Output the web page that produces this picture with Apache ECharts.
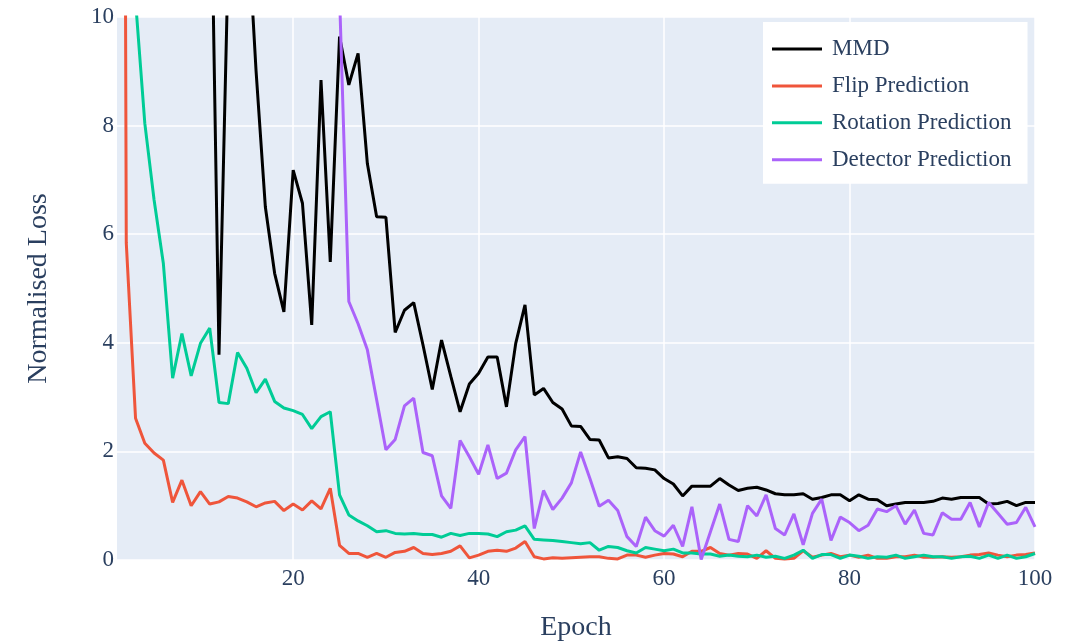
<!DOCTYPE html>
<html>
<head>
<meta charset="utf-8">
<script src="https://cdn.jsdelivr.net/npm/echarts@6/dist/echarts.min.js"></script>
<style>
html,body{margin:0;padding:0;background:#fff;}
#chart{width:1067px;height:644px;}
</style>
</head>
<body>
<div id="chart"></div>
<script>
const epochs = Array.from({length: 100}, (_, i) => i + 1);
const xTicks = [20, 40, 60, 80, 100];
const seriesNames = ['MMD', 'Flip Prediction', 'Rotation Prediction', 'Detector Prediction'];

// values per epoch 1..100 (null = not shown / off chart)
const mmd = [null,null,null,null,null,null,null,null,null,null,
  14.1,3.78,11.1,12.5,12.0,9.0,6.5,5.28,4.57,7.18,
  6.57,4.33,8.84,5.49,9.64,8.75,9.33,7.3,6.32,6.31,
  4.19,4.6,4.74,3.96,3.14,4.05,3.38,2.73,3.24,3.44,
  3.74,3.74,2.82,3.99,4.7,3.04,3.16,2.9,2.78,2.47,
  2.46,2.22,2.21,1.88,1.9,1.87,1.7,1.69,1.66,1.5,
  1.4,1.18,1.36,1.36,1.36,1.5,1.38,1.28,1.32,1.34,
  1.29,1.22,1.2,1.2,1.22,1.12,1.15,1.2,1.2,1.09,
  1.2,1.12,1.11,1.0,1.03,1.06,1.06,1.06,1.08,1.14,
  1.12,1.15,1.15,1.15,1.03,1.04,1.08,1.0,1.06,1.06];
const flip = [60,5.84,2.61,2.15,1.97,1.84,1.06,1.47,1.0,1.26,
  1.03,1.07,1.17,1.14,1.07,0.98,1.05,1.08,0.91,1.03,
  0.92,1.09,0.94,1.32,0.27,0.12,0.12,0.05,0.12,0.05,
  0.14,0.16,0.23,0.12,0.1,0.12,0.16,0.26,0.04,0.09,
  0.16,0.18,0.16,0.22,0.34,0.06,0.02,0.04,0.03,0.04,
  0.05,0.06,0.06,0.03,0.02,0.09,0.09,0.05,0.09,0.12,
  0.11,0.06,0.16,0.16,0.23,0.12,0.09,0.12,0.11,0.03,
  0.17,0.03,0.02,0.03,0.17,0.05,0.09,0.12,0.06,0.09,
  0.05,0.09,0.03,0.03,0.06,0.06,0.09,0.05,0.05,0.06,
  0.05,0.06,0.09,0.1,0.13,0.09,0.06,0.09,0.1,0.13];
const rotation = [null,null,10.3,8.04,6.63,5.46,3.35,4.17,3.39,3.99,
  4.27,2.9,2.88,3.82,3.53,3.08,3.33,2.92,2.8,2.75,
  2.68,2.42,2.64,2.73,1.2,0.83,0.72,0.63,0.52,0.54,
  0.49,0.48,0.49,0.47,0.47,0.42,0.49,0.45,0.49,0.49,
  0.48,0.43,0.52,0.55,0.63,0.38,0.37,0.36,0.34,0.32,
  0.3,0.32,0.18,0.25,0.23,0.17,0.13,0.23,0.2,0.17,
  0.2,0.13,0.13,0.11,0.11,0.07,0.09,0.07,0.06,0.09,
  0.05,0.07,0.03,0.09,0.18,0.03,0.1,0.1,0.03,0.09,
  0.07,0.03,0.06,0.05,0.09,0.03,0.06,0.09,0.06,0.06,
  0.03,0.06,0.07,0.03,0.09,0.03,0.09,0.03,0.06,0.12];
const detector = [null,null,null,null,null,null,null,null,null,null,
  null,null,null,null,null,null,null,null,null,null,
  null,null,null,null,10.4,4.76,4.35,3.87,2.95,2.03,
  2.22,2.84,2.98,1.98,1.92,1.18,0.95,2.2,1.9,1.58,
  2.12,1.5,1.6,2.03,2.27,0.58,1.28,0.93,1.14,1.42,
  1.99,1.5,0.99,1.1,0.91,0.43,0.25,0.79,0.54,0.44,
  0.64,0.25,0.98,0.01,0.52,1.03,0.38,0.34,1.0,0.81,
  1.2,0.58,0.46,0.85,0.28,0.86,1.12,0.36,0.79,0.69,
  0.54,0.64,0.94,0.89,1.0,0.66,0.92,0.49,0.46,0.87,
  0.75,0.75,1.06,0.61,1.06,0.86,0.66,0.69,0.97,0.61];

const colors = ['#000000', '#EF553B', '#00CC96', '#AB63FA'];
const txt = '#2a3f5f';
const font = '"Liberation Serif", "DejaVu Serif", serif';

function pairs(arr) { return epochs.map((e, i) => [e, arr[i]]); }
const allData = [mmd, flip, rotation, detector];

const chart = echarts.init(document.getElementById('chart'), null, {renderer: 'canvas'});
chart.setOption({
  animation: false,
  backgroundColor: '#ffffff',
  textStyle: {fontFamily: font, color: txt},
  grid: {left: 117, right: 32, top: 17, bottom: 84, show: true, backgroundColor: '#e5ecf6', borderWidth: 0,
         containLabel: false, outerBoundsMode: 'none'},
  legend: {
    orient: 'vertical', left: 763, top: 22,
    backgroundColor: '#ffffff',
    padding: [14, 16, 11, 9],
    icon: 'rect',
    itemWidth: 50, itemHeight: 3, itemGap: 10.9,
    textStyle: {fontFamily: font, fontSize: 23, lineHeight: 26, color: txt, padding: [0, 0, 0, 5]},
    data: seriesNames
  },
  xAxis: {
    type: 'value', min: 1, max: 100,
    name: 'Epoch', nameLocation: 'middle', nameGap: 54,
    nameTextStyle: {fontFamily: font, fontSize: 28, color: txt},
    axisLine: {show: false}, axisTick: {show: false, customValues: xTicks},
    axisLabel: {customValues: xTicks, fontFamily: font, fontSize: 23, color: txt, margin: 7},
    splitLine: {show: true, lineStyle: {color: '#ffffff', width: 1.5}}
  },
  yAxis: {
    type: 'value', min: 0, max: 10, interval: 2,
    name: 'Normalised Loss', nameLocation: 'middle', nameGap: 64, nameRotate: 90,
    nameTextStyle: {fontFamily: font, fontSize: 28, color: txt},
    axisLine: {show: false}, axisTick: {show: false},
    axisLabel: {fontFamily: font, fontSize: 23, color: txt, margin: 3},
    splitLine: {show: true, lineStyle: {color: '#ffffff', width: 1.5}}
  },
  series: seriesNames.map((n, k) => ({
    name: n, type: 'line', data: pairs(allData[k]),
    showSymbol: false, symbol: 'none', connectNulls: false, clip: true,
    lineStyle: {color: colors[k], width: 3},
    itemStyle: {color: colors[k]},
    z: k === 0 ? 2 : 3 + k
  }))
});
</script>
</body>
</html>
